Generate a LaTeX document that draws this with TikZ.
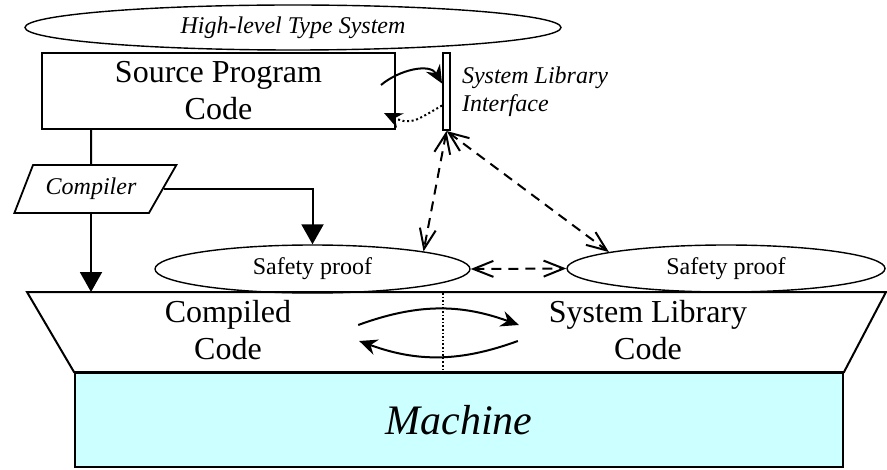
\documentclass[tikz,border=0pt]{standalone}
\usepackage{fontspec}
\setmainfont{Liberation Serif}
\usepackage{tikz}
\usetikzlibrary{arrows.meta, shapes.geometric, calc}
\definecolor{machinecyan}{HTML}{CCFFFF}

\begin{document}
\begin{tikzpicture}[
  x=0.5pt, y=0.5pt,
  box/.style={draw, line width=1pt, inner sep=0pt},
  oval/.style={ellipse, draw, line width=0.7pt, inner sep=0pt},
  big/.style={font=\fontsize{16}{18.5}\selectfont, align=center},
  lbl/.style={font=\fontsize{12}{14}\selectfont\itshape},
  small/.style={font=\fontsize{12}{14}\selectfont},
  fwd/.style={-{Stealth[length=9pt, width=8pt, inset=3pt]}, line width=1pt},
  back/.style={-{Stealth[length=9pt, width=8pt, inset=3pt]}, line width=1pt,
    dash pattern=on 1pt off 1.3pt},
  tri/.style={-{Triangle[length=10pt, width=11pt]}, line width=1pt},
  link/.style={{Straight Barb[length=10pt, width=8pt]}-{Straight Barb[length=10pt, width=8pt]},
    line width=1pt, dash pattern=on 5pt off 3.5pt},
  divider/.style={line width=0.6pt, dash pattern=on 0.8pt off 1pt},
]
  \useasboundingbox (0,0) rectangle (887,-470);

  %% ─── MACHINE + CODE LAYER ────────────────────────────────────────────
  \node[box, fill=machinecyan, minimum width=384pt, minimum height=47pt,
        font=\fontsize{21}{24}\selectfont\itshape] (machine) at (459,-420) {Machine};
  \coordinate (tl) at (27,-292);
  \coordinate (tr) at (886,-292);
  \draw[line width=1pt] (tl) -- (tr) -- (machine.north east)
    -- (machine.north west) -- cycle;
  \draw[divider] (443,-293) -- (443,-372);

  \node[big] (cc)  at (228,-330.5) {Compiled\\Code};
  \node[big] (slc) at (648,-330.5) {System Library\\Code};

  % calls between the two halves
  \draw[fwd] ($(cc.east)+(60,5.5)$) to[bend left=20] ($(slc.west)+(-23,5.5)$);
  \draw[fwd] ($(slc.west)+(-24,-10.5)$) to[bend left=20] ($(cc.east)+(61,-10.5)$);

  %% ─── SOURCE SIDE ─────────────────────────────────────────────────────
  \node[oval, lbl, minimum width=268pt, minimum height=22.5pt] (typesys)
    at (293,-27.5) {High-level Type System};
  \node[box, big, minimum width=176.5pt, minimum height=38pt] (source)
    at (218.5,-91) {Source Program\\Code};
  \node[box, minimum width=3.5pt, minimum height=38.5pt] (iface) at (446.5,-91.5) {};
  \node[lbl, anchor=west, align=left] (ifacetxt) at (455,-92)
    {System Library\\Interface};

  \draw[fwd] ($(source.east)+(-15,6)$) to[out=40,in=120] ($(iface.west)+(0,8)$);
  \draw[back] ($(iface.west)+(0,-14)$) to[out=210,in=-25,looseness=1.3]
    ($(source.east)+(-12,-22)$);

  %% ─── PROOFS ──────────────────────────────────────────────────────────
  \node[oval, small, minimum width=157.5pt, minimum height=24pt] (safeL)
    at (312.5,-269) {Safety proof};
  \node[oval, small, minimum width=159pt, minimum height=23.5pt] (safeR)
    at (726,-268.5) {Safety proof};

  \draw[link] (iface.south) -- (safeL.9);
  \draw[link] (iface.south) -- (safeR.172);
  \draw[link] (safeL.east) -- (safeR.west);

  %% ─── COMPILER ────────────────────────────────────────────────────────
  \node[trapezium, trapezium left angle=62, trapezium right angle=128,
        trapezium stretches body, draw, line width=0.9pt,
        minimum width=81pt, minimum height=24pt, lbl] (compiler) at (91,-189) {Compiler};

  \draw[line width=1pt] (source.south -| compiler) -- (compiler.north);
  \draw[tri] (compiler.south) -- (compiler.south |- tl);
  \draw[tri] (compiler.east) -| (safeL.north);
\end{tikzpicture}
\end{document}
